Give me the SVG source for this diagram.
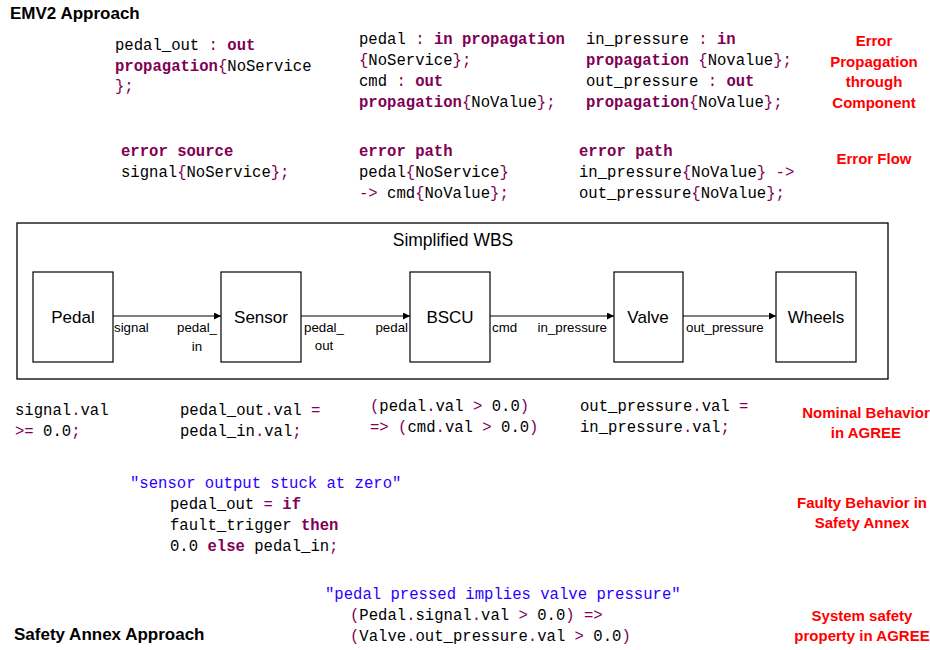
<svg xmlns="http://www.w3.org/2000/svg" width="930" height="650" viewBox="0 0 930 650">
<defs>
<marker id="ah" viewBox="0 0 10 10" refX="10" refY="5" markerWidth="7" markerHeight="7" markerUnits="userSpaceOnUse" orient="auto"><path d="M0,0 L10,5 L0,10 z" fill="#000"/></marker>
<style>
.code{font-family:"Liberation Mono","DejaVu Sans Mono",monospace;font-size:15.6px;fill:#000;white-space:pre}
.k{fill:#7f0055;font-weight:bold}
.p{fill:#7f0055}
.s{fill:#2a00ff}
.head{font-family:"Liberation Sans",Arial,sans-serif;font-size:17px;font-weight:bold;fill:#000}
.red{font-family:"Liberation Sans",Arial,sans-serif;font-size:15px;font-weight:bold;fill:#ff0000;text-anchor:middle}
.box{fill:#fff;stroke:#000;stroke-width:1.2}
.nl{font-family:"Liberation Sans",Arial,sans-serif;font-size:17px;fill:#000;text-anchor:middle}
.pl{font-family:"Liberation Sans",Arial,sans-serif;font-size:13.3px;fill:#000}
.conn{stroke:#000;stroke-width:1.2;fill:none}
</style>
</defs>
<rect width="930" height="650" fill="#fff"/>
<text class="head" x="10" y="19">EMV2 Approach</text>
<text class="head" x="14" y="640">Safety Annex Approach</text>

<g id="emv2-propagation">
<text class="code" x="115" y="50">pedal_out <tspan class="p">:</tspan> <tspan class="k">out</tspan></text>
<text class="code" x="115" y="71"><tspan class="k">propagation</tspan><tspan class="p">{</tspan>NoService</text>
<text class="code" x="115" y="91"><tspan class="p">};</tspan></text>
<text class="code" x="359" y="44">pedal <tspan class="p">:</tspan> <tspan class="k">in propagation</tspan></text>
<text class="code" x="359" y="65"><tspan class="p">{</tspan>NoService<tspan class="p">};</tspan></text>
<text class="code" x="359" y="86">cmd <tspan class="p">:</tspan> <tspan class="k">out</tspan></text>
<text class="code" x="359" y="107"><tspan class="k">propagation</tspan><tspan class="p">{</tspan>NoValue<tspan class="p">};</tspan></text>
<text class="code" x="586" y="44">in_pressure <tspan class="p">:</tspan> <tspan class="k">in</tspan></text>
<text class="code" x="586" y="65"><tspan class="k">propagation</tspan> <tspan class="p">{</tspan>Novalue<tspan class="p">};</tspan></text>
<text class="code" x="586" y="86">out_pressure <tspan class="p">:</tspan> <tspan class="k">out</tspan></text>
<text class="code" x="586" y="107"><tspan class="k">propagation</tspan><tspan class="p">{</tspan>NoValue<tspan class="p">};</tspan></text>
</g>

<g id="emv2-flow">
<text class="code" x="121" y="156"><tspan class="k">error source</tspan></text>
<text class="code" x="121" y="177">signal<tspan class="p">{</tspan>NoService<tspan class="p">};</tspan></text>
<text class="code" x="359" y="156"><tspan class="k">error path</tspan></text>
<text class="code" x="359" y="177">pedal<tspan class="p">{</tspan>NoService<tspan class="p">}</tspan></text>
<text class="code" x="359" y="198"><tspan class="p">-&gt;</tspan> cmd<tspan class="p">{</tspan>NoValue<tspan class="p">};</tspan></text>
<text class="code" x="579" y="156"><tspan class="k">error path</tspan></text>
<text class="code" x="579" y="177">in_pressure<tspan class="p">{</tspan>NoValue<tspan class="p">}</tspan> <tspan class="p">-&gt;</tspan></text>
<text class="code" x="579" y="198">out_pressure<tspan class="p">{</tspan>NoValue<tspan class="p">};</tspan></text>
</g>

<g id="labels-red">
<text class="red" x="874" y="46">Error</text>
<text class="red" x="874" y="67">Propagation</text>
<text class="red" x="874" y="87">through</text>
<text class="red" x="874" y="108">Component</text>
<text class="red" x="874" y="164">Error Flow</text>
<text class="red" x="866" y="418">Nominal Behavior</text>
<text class="red" x="866" y="438">in AGREE</text>
<text class="red" x="862" y="508">Faulty Behavior in</text>
<text class="red" x="862" y="528">Safety Annex</text>
<text class="red" x="862" y="621">System safety</text>
<text class="red" x="862" y="641">property in AGREE</text>
</g>

<g id="wbs-frame">
<rect x="17" y="223" width="871" height="156" fill="none" stroke="#000" stroke-width="1.3"/>
<text x="453" y="246" font-family="'Liberation Sans',Arial,sans-serif" font-size="17.5" text-anchor="middle">Simplified WBS</text>
</g>

<g id="connectors">
<line class="conn" x1="113" y1="316" x2="221" y2="316" marker-end="url(#ah)"/>
<line class="conn" x1="301" y1="316" x2="410" y2="316" marker-end="url(#ah)"/>
<line class="conn" x1="490" y1="316" x2="614" y2="316" marker-end="url(#ah)"/>
<line class="conn" x1="683" y1="316" x2="776" y2="316" marker-end="url(#ah)"/>
<text class="pl" x="114" y="332">signal</text>
<text class="pl" x="217" y="332" text-anchor="end">pedal_</text>
<text class="pl" x="197" y="351" text-anchor="middle">in</text>
<text class="pl" x="304" y="332">pedal_</text>
<text class="pl" x="324" y="350" text-anchor="middle">out</text>
<text class="pl" x="408" y="332" text-anchor="end">pedal</text>
<text class="pl" x="492" y="332">cmd</text>
<text class="pl" x="607" y="332" text-anchor="end">in_pressure</text>
<text class="pl" x="686" y="332">out_pressure</text>
</g>

<g id="node-pedal"><rect class="box" x="33" y="272" width="80" height="90"/><text class="nl" x="73" y="323">Pedal</text></g>
<g id="node-sensor"><rect class="box" x="221" y="272" width="80" height="90"/><text class="nl" x="261" y="323">Sensor</text></g>
<g id="node-bscu"><rect class="box" x="410" y="272" width="80" height="90"/><text class="nl" x="450" y="323">BSCU</text></g>
<g id="node-valve"><rect class="box" x="614" y="272" width="69" height="90"/><text class="nl" x="648" y="323">Valve</text></g>
<g id="node-wheels"><rect class="box" x="776" y="272" width="80" height="90"/><text class="nl" x="816" y="323">Wheels</text></g>

<g id="agree-nominal">
<text class="code" x="15" y="415">signal<tspan class="p">.</tspan>val</text>
<text class="code" x="15" y="436"><tspan class="p">&gt;=</tspan> 0.0<tspan class="p">;</tspan></text>
<text class="code" x="180" y="415">pedal_out<tspan class="p">.</tspan>val <tspan class="p">=</tspan></text>
<text class="code" x="180" y="436">pedal_in<tspan class="p">.</tspan>val<tspan class="p">;</tspan></text>
<text class="code" x="370" y="411"><tspan class="p">(</tspan>pedal<tspan class="p">.</tspan>val <tspan class="p">&gt;</tspan> 0.0<tspan class="p">)</tspan></text>
<text class="code" x="370" y="432"><tspan class="p">=&gt;</tspan> <tspan class="p">(</tspan>cmd<tspan class="p">.</tspan>val <tspan class="p">&gt;</tspan> 0.0<tspan class="p">)</tspan></text>
<text class="code" x="580" y="411">out_pressure<tspan class="p">.</tspan>val <tspan class="p">=</tspan></text>
<text class="code" x="580" y="432">in_pressure<tspan class="p">.</tspan>val<tspan class="p">;</tspan></text>
</g>

<g id="safety-fault">
<text class="code" x="130" y="488"><tspan class="s">"sensor output stuck at zero"</tspan></text>
<text class="code" x="170" y="509">pedal_out <tspan class="p">=</tspan> <tspan class="k">if</tspan></text>
<text class="code" x="170" y="530">fault_trigger <tspan class="k">then</tspan></text>
<text class="code" x="170" y="551">0.0 <tspan class="k">else</tspan> pedal_in<tspan class="p">;</tspan></text>
</g>

<g id="safety-property">
<text class="code" x="325" y="599"><tspan class="s">"pedal pressed implies valve pressure"</tspan></text>
<text class="code" x="350" y="620"><tspan class="p">(</tspan>Pedal<tspan class="p">.</tspan>signal<tspan class="p">.</tspan>val <tspan class="p">&gt;</tspan> 0.0<tspan class="p">)</tspan> <tspan class="p">=&gt;</tspan></text>
<text class="code" x="350" y="641"><tspan class="p">(</tspan>Valve<tspan class="p">.</tspan>out_pressure<tspan class="p">.</tspan>val <tspan class="p">&gt;</tspan> 0.0<tspan class="p">)</tspan></text>
</g>
</svg>
